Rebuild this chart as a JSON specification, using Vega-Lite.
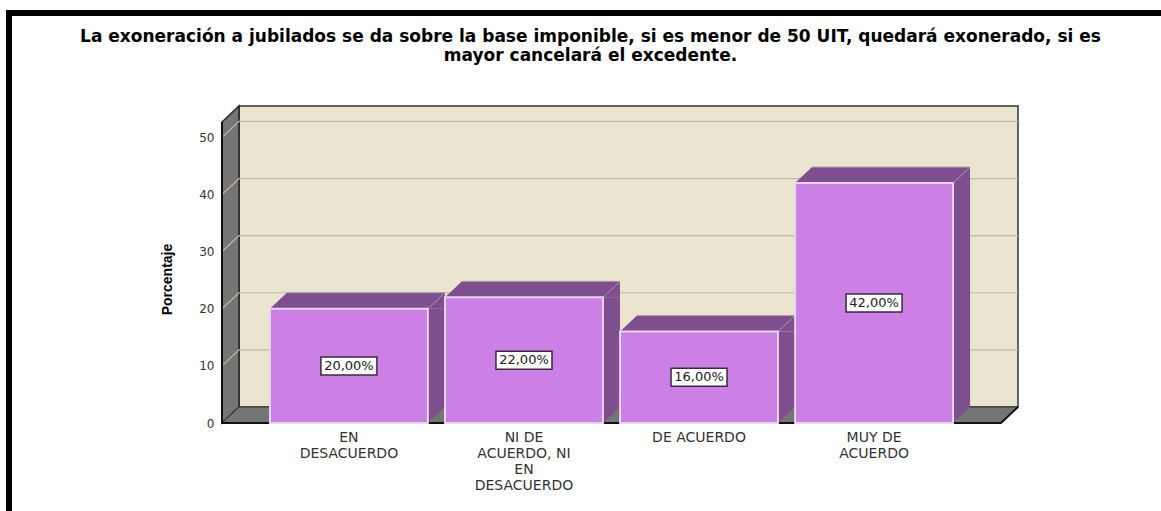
{
"$schema":"https://vega.github.io/schema/vega-lite/v6.json",
"width":779,"height":301,
"autosize":{"type":"none"},
"padding":{"left":222,"top":122,"right":160,"bottom":88},
"background":"white",
"view":{"stroke":null},
"config":{"axis":{"grid":false,"domain":false,"ticks":false}},
"title":{"text":["La exoneración a jubilados se da sobre la base imponible, si es menor de 50 UIT, quedará exonerado, si es","mayor cancelará el excedente."],"anchor":"middle","dx":-21,"offset":-55,"font":"DejaVu Sans","fontSize":17,"fontWeight":"bold","color":"#000000","lineHeight":19.5},
"datasets":{
"barras":[
{"categoria":"EN DESACUERDO","porcentaje":20,"mitad":10,"etiqueta":"20,00%"},
{"categoria":"NI DE ACUERDO, NI EN DESACUERDO","porcentaje":22,"mitad":11,"etiqueta":"22,00%"},
{"categoria":"DE ACUERDO","porcentaje":16,"mitad":8,"etiqueta":"16,00%"},
{"categoria":"MUY DE ACUERDO","porcentaje":42,"mitad":21,"etiqueta":"42,00%"}
],
"marco":[{"elemento":"marco"}],
"rejilla":[{"marca":10},{"marca":20},{"marca":30},{"marca":40},{"marca":50}]
},
"layer":[
{"data":{"name":"marco"},
"mark":{"type":"point","filled":true,"opacity":1,"size":4,"color":"#000000","shape":"M-216,-413 L939,-413 L939,-407 L-210,-407 L-210,88 L-216,88 Z"},
"encoding":{"x":{"value":0},"y":{"datum":0,"type":"quantitative","scale":{"domain":[0,52.7],"nice":false}}}},
{"data":{"name":"marco"},
"mark":{"type":"point","filled":true,"opacity":1,"size":4,"color":"#EBE5CF","stroke":"#333333","strokeWidth":1.5,"shape":"M17,-16 L796,-16 L796,-317 L17,-317 Z"},
"encoding":{"x":{"value":0},"y":{"datum":0,"type":"quantitative","scale":{"domain":[0,52.7],"nice":false}}}},
{"data":{"name":"marco"},
"mark":{"type":"point","filled":true,"opacity":1,"size":4,"color":"#757575","stroke":"#222222","strokeWidth":1.5,"shape":"M0,0 L17,-16 L17,-317 L0,-301 Z"},
"encoding":{"x":{"value":0},"y":{"datum":0,"type":"quantitative","scale":{"domain":[0,52.7],"nice":false}}}},
{"data":{"name":"marco"},
"mark":{"type":"point","filled":true,"opacity":1,"size":4,"color":"#757575","stroke":"#333333","strokeWidth":1,"shape":"M0,0 L779,0 L796,-16 L17,-16 Z"},
"encoding":{"x":{"value":0},"y":{"datum":0,"type":"quantitative","scale":{"domain":[0,52.7],"nice":false}}}},
{"data":{"name":"rejilla"},
"mark":{"type":"point","filled":false,"opacity":1,"size":4,"stroke":"#BDB9AE","strokeWidth":1.2,"shape":"M0,0 L17,-16 L796,-16"},
"encoding":{"x":{"value":0},"y":{"field":"marca","type":"quantitative","scale":{"domain":[0,52.7],"nice":false}}}},
{"data":{"name":"barras"},
"mark":{"type":"bar","color":"#7E4E8E","width":17,"xOffset":87.5},
"encoding":{
"x":{"field":"categoria","type":"nominal","sort":null,"scale":{"paddingInner":0.098,"paddingOuter":0.274},
"axis":{"title":null,"domain":false,"ticks":false,"labelAngle":0,"labelFont":"DejaVu Sans","labelFontSize":14,"labelColor":"#333333","labelPadding":7,"labelLimit":300,"labelLineHeight":16,"labelOverlap":false,"labelBaseline":"top",
"labelExpr":"datum.label == 'EN DESACUERDO' ? ['EN','DESACUERDO'] : datum.label == 'DE ACUERDO' ? 'DE ACUERDO' : datum.label == 'MUY DE ACUERDO' ? ['MUY DE','ACUERDO'] : ['NI DE','ACUERDO, NI','EN','DESACUERDO']"}},
"y":{"field":"porcentaje","type":"quantitative","scale":{"domain":[0,52.7],"nice":false},
"axis":{"title":"Porcentaje","values":[0,10,20,30,40,50],"grid":false,"domain":false,"ticks":false,"labelFont":"DejaVu Sans","labelFontSize":12,"labelColor":"#333333","labelPadding":8,"titleFont":"Liberation Sans","titleFontSize":14,"titleFontWeight":"bold","titleColor":"#000000","titleX":-48,"titleY":157}}}},
{"data":{"name":"barras"},
"mark":{"type":"point","filled":true,"opacity":1,"size":4,"color":"#7E4E8E","shape":"M-79,0 L96,0 L96,-16 L-62,-16 Z"},
"encoding":{"x":{"field":"categoria","type":"nominal","sort":null,"scale":{"paddingInner":0.098,"paddingOuter":0.274}},"y":{"field":"porcentaje","type":"quantitative","scale":{"domain":[0,52.7],"nice":false}}}},
{"data":{"name":"barras"},
"mark":{"type":"point","filled":false,"opacity":1,"size":4,"stroke":"#A3A0A3","strokeWidth":1,"shape":"M-62,-16 L96,-16 M79,0 L96,-16"},
"encoding":{"x":{"field":"categoria","type":"nominal","sort":null,"scale":{"paddingInner":0.098,"paddingOuter":0.274}},"y":{"field":"porcentaje","type":"quantitative","scale":{"domain":[0,52.7],"nice":false}}}},
{"data":{"name":"barras"},
"mark":{"type":"point","filled":true,"opacity":1,"size":4,"color":"#757575","shape":"M79,0 L96,0 L96,-16 Z"},
"encoding":{"x":{"field":"categoria","type":"nominal","sort":null,"scale":{"paddingInner":0.098,"paddingOuter":0.274}},"y":{"datum":0,"type":"quantitative","scale":{"domain":[0,52.7],"nice":false}}}},
{"data":{"name":"marco"},
"mark":{"type":"point","filled":false,"opacity":1,"size":4,"stroke":"#111111","strokeWidth":2,"shape":"M0,-301 L0,0 L779,0 L796,-16"},
"encoding":{"x":{"value":0},"y":{"datum":0,"type":"quantitative","scale":{"domain":[0,52.7],"nice":false}}}},
{"data":{"name":"barras"},
"mark":{"type":"bar","color":"#CC7FE4","stroke":"#E6D6EC","strokeWidth":2},
"encoding":{"x":{"field":"categoria","type":"nominal","sort":null,"scale":{"paddingInner":0.098,"paddingOuter":0.274}},"y":{"field":"porcentaje","type":"quantitative","scale":{"domain":[0,52.7],"nice":false}}}},
{"data":{"name":"barras"},
"mark":{"type":"point","filled":true,"opacity":1,"size":4,"color":"#FFFFFF","stroke":"#3A2A40","strokeWidth":1.5,"shape":"M-28,-9 L28,-9 L28,9 L-28,9 Z"},
"encoding":{"x":{"field":"categoria","type":"nominal","sort":null,"scale":{"paddingInner":0.098,"paddingOuter":0.274}},"y":{"field":"mitad","type":"quantitative","scale":{"domain":[0,52.7],"nice":false}}}},
{"data":{"name":"barras"},
"mark":{"type":"text","font":"DejaVu Sans","fontSize":13,"color":"#222222","align":"center","baseline":"middle"},
"encoding":{"x":{"field":"categoria","type":"nominal","sort":null,"scale":{"paddingInner":0.098,"paddingOuter":0.274}},"y":{"field":"mitad","type":"quantitative","scale":{"domain":[0,52.7],"nice":false}},"text":{"field":"etiqueta"}}}
]
}
